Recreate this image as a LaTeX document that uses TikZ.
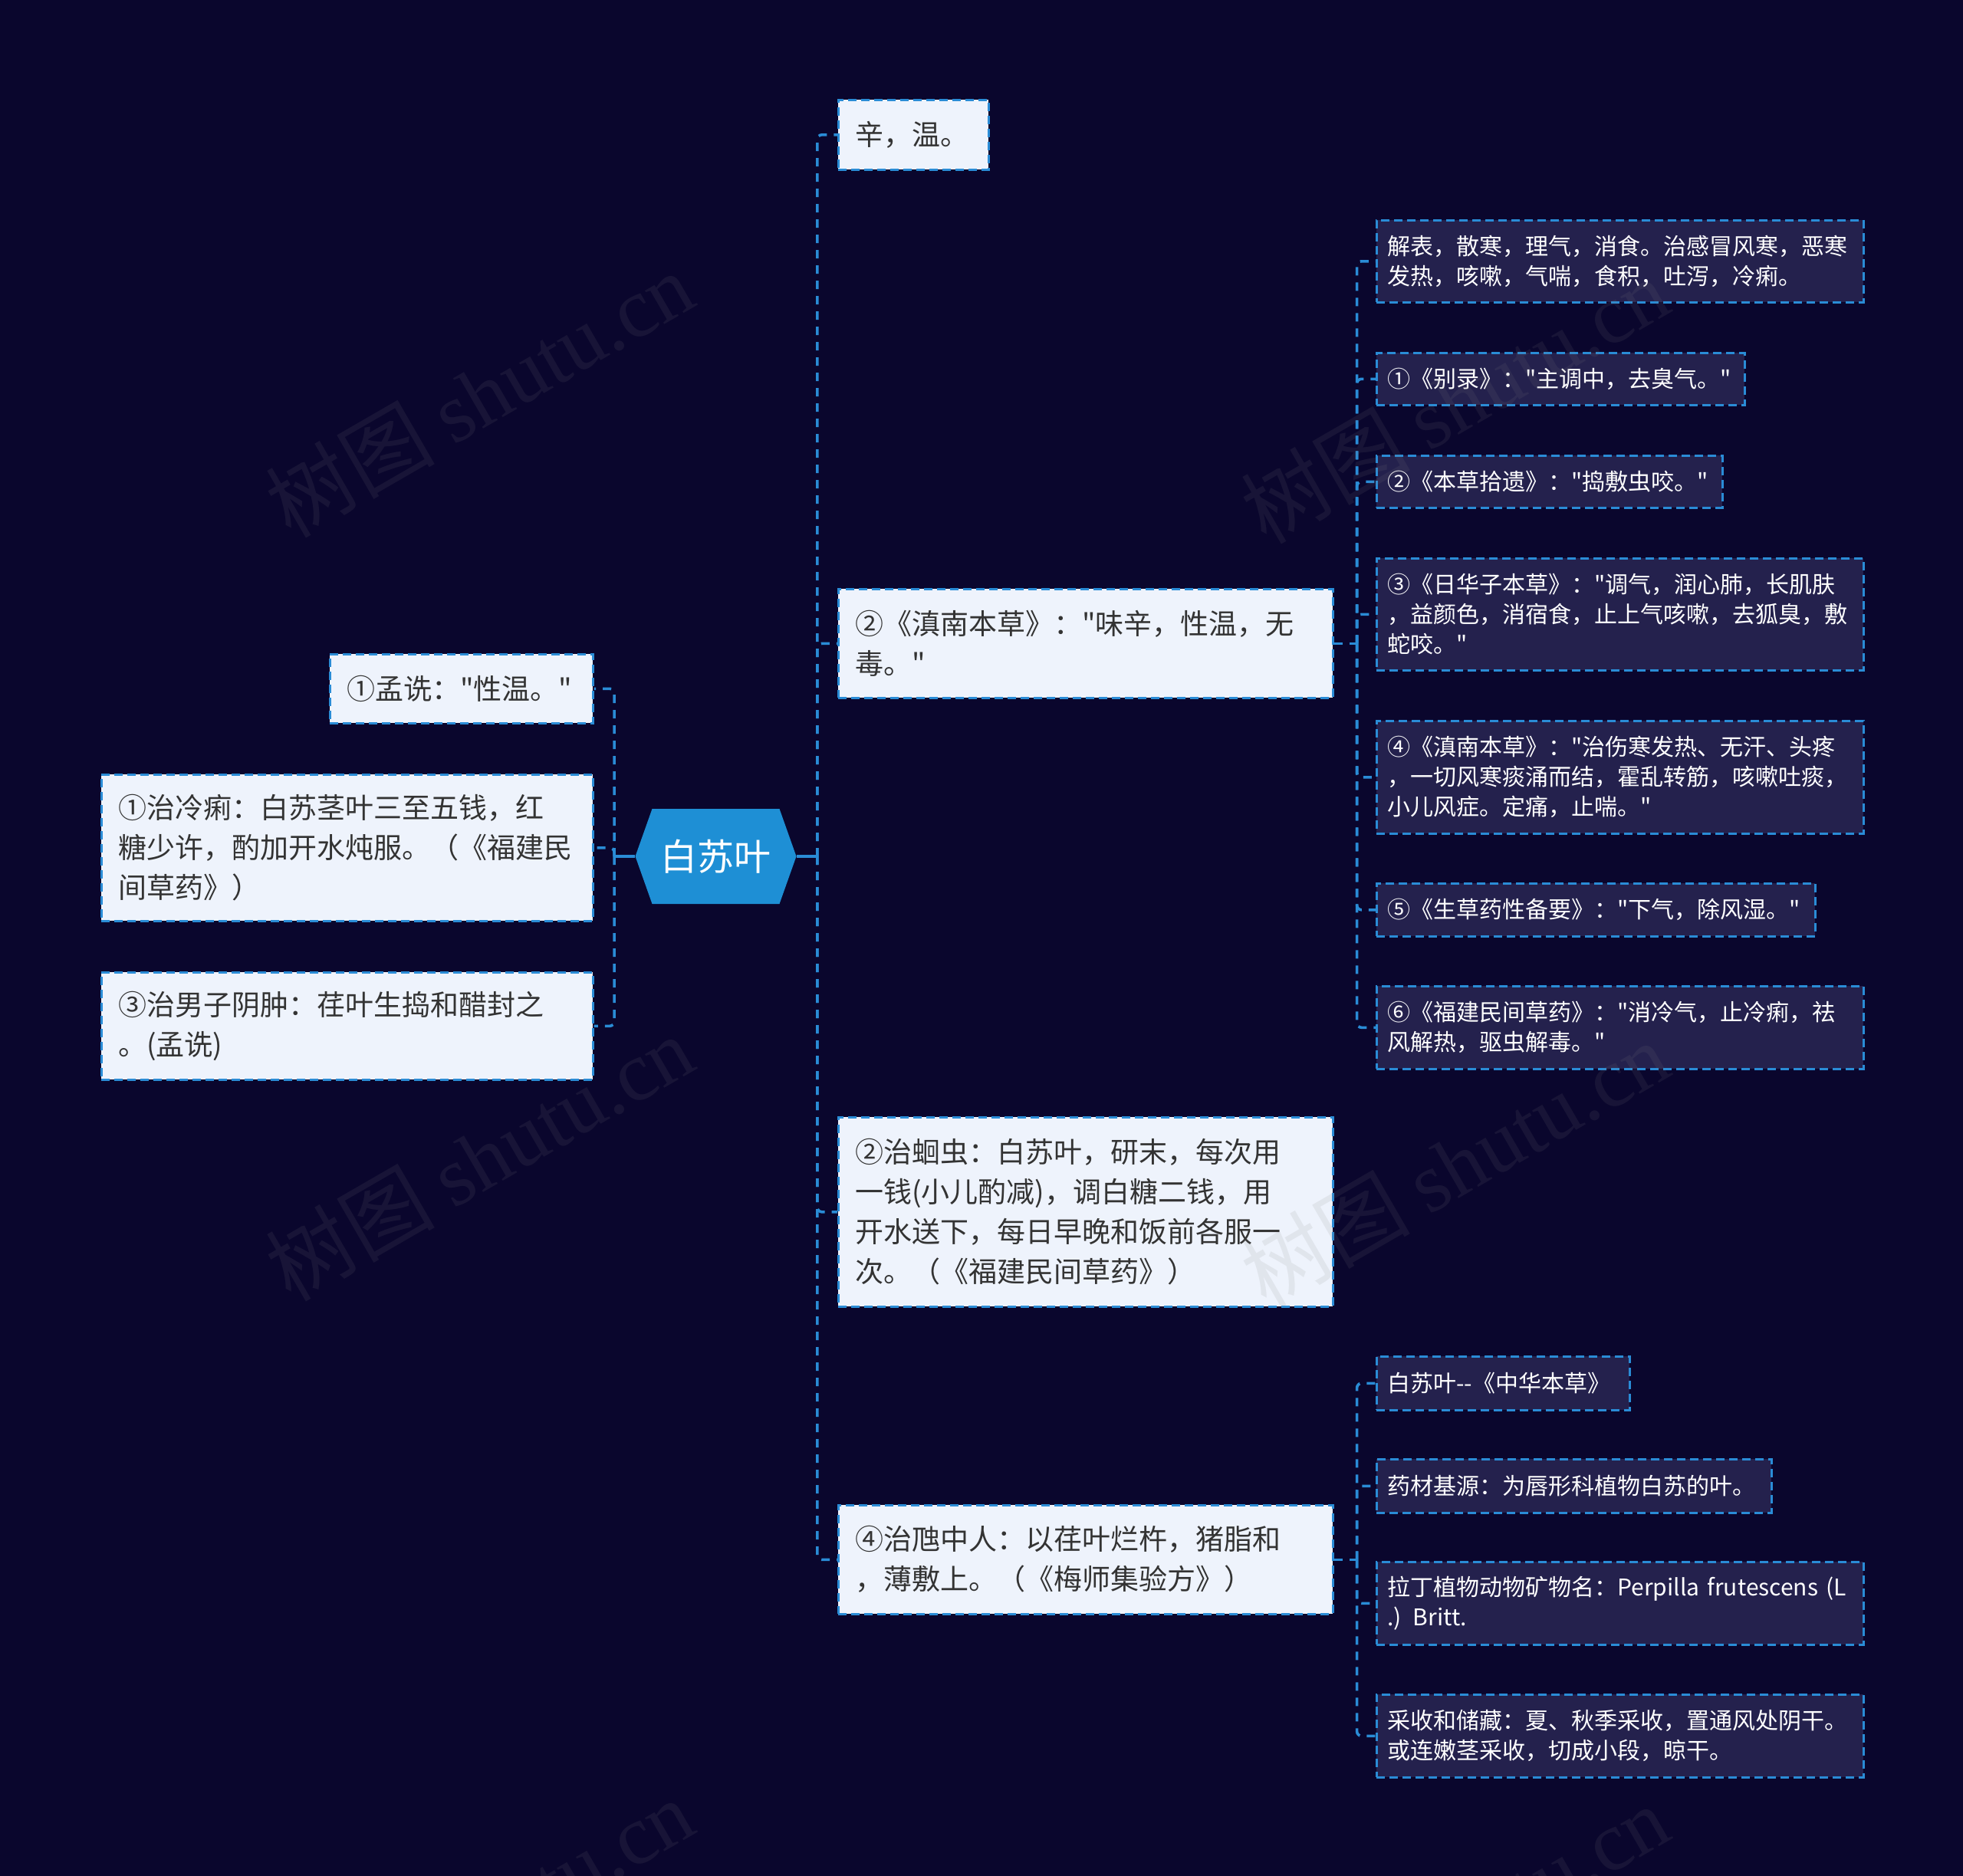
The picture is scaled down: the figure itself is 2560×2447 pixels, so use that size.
\documentclass[tikz,border=0pt]{standalone}
\usepackage{fontspec}
\setmainfont{Noto Sans CJK SC}[Ligatures=TeXOff]
\newfontfamily\wmserif{Liberation Serif}
\definecolor{bg}{HTML}{0A062D}
\definecolor{lineblue}{HTML}{2A8CD6}
\definecolor{rootblue}{HTML}{1E8FD5}
\definecolor{lightfill}{HTML}{EEF3FC}
\definecolor{darkfill}{HTML}{24214D}
\definecolor{darktext}{HTML}{333333}
\begin{document}
\begin{tikzpicture}[x=0.5pt,y=-0.5pt,
  boxdash/.style={draw=lineblue, line width=1.3pt, dash pattern=on 5.5pt off 3pt},
  lonebox/.style={boxdash, fill=lightfill, text=darktext, font=\fontsize{18.5}{26}\selectfont,
    align=left, anchor=north west, inner xsep=11pt, inner ysep=0pt},
  ltwobox/.style={boxdash, fill=darkfill, text=white, font=\fontsize{15}{19.5}\selectfont,
    align=left, anchor=north west, inner xsep=7pt, inner ysep=0pt},
  sz/.style 2 args={text width=#1, minimum height=#2},
  conn/.style={draw=lineblue, line width=1.8pt, dash pattern=on 5.5pt off 4.5pt, rounded corners=3pt},
  rootconn/.style={draw=lineblue, line width=1.8pt},
  wmark/.style={rotate=30, opacity=0.12, text=gray, font=\fontsize{55}{55}\selectfont, inner sep=0pt}
]
% background
\fill[bg] (0,0) rectangle (2560,2447);
\useasboundingbox (0,0) rectangle (2560,2447);

% root
\node[minimum width=105pt, minimum height=62pt, inner sep=0pt, text=white,
  font=\fontsize{24}{24}\selectfont,
  path picture={\fill[rootblue] (path picture bounding box.west)
     -- ([xshift=11pt]path picture bounding box.north west)
     -- ([xshift=-11pt]path picture bounding box.north east)
     -- (path picture bounding box.east)
     -- ([xshift=-11pt]path picture bounding box.south east)
     -- ([xshift=11pt]path picture bounding box.south west) -- cycle;}]
  (root) at (933.5,1117) {白苏叶};

% level 1 right
\node[lonebox, sz={76pt}{45.5pt}] (n1) at (1092,129) {辛，温。};
\node[lonebox, sz={300.5pt}{71pt}] (n2) at (1092,767) {②《滇南本草》："味辛，性温，无\\毒。"};
\node[lonebox, sz={300.5pt}{123.5pt}] (n3) at (1092,1456) {②治蛔虫：白苏叶，研末，每次用\\一钱(小儿酌减)，调白糖二钱，用\\开水送下，每日早晚和饭前各服一\\次。（《福建民间草药》）};
\node[lonebox, sz={300.5pt}{71pt}] (n4) at (1092,1962) {④治虺中人：以荏叶烂杵，猪脂和\\，薄敷上。（《梅师集验方》）};

% level 1 left
\node[lonebox, sz={149.5pt}{45pt}] (m1) at (429,852) {①孟诜："性温。"};
\node[lonebox, sz={298.5pt}{95.5pt}] (m2) at (131,1009) {①治冷痢：白苏茎叶三至五钱，红\\糖少许，酌加开水炖服。（《福建民\\间草药》）};
\node[lonebox, sz={298.5pt}{70pt}] (m3) at (131,1267) {③治男子阴肿：荏叶生捣和醋封之\\。(孟诜)};

% level 2 under n2
\node[ltwobox, sz={303.5pt}{53.5pt}] (a) at (1794,286) {解表，散寒，理气，消食。治感冒风寒，恶寒\\发热，咳嗽，气喘，食积，吐泻，冷痢。};
\node[ltwobox, sz={226pt}{34pt}] (b) at (1794,459) {①《别录》："主调中，去臭气。"};
\node[ltwobox, sz={211.5pt}{34pt}] (c) at (1794,593) {②《本草拾遗》："捣敷虫咬。"};
\node[ltwobox, sz={303.5pt}{73pt}] (d) at (1794,727) {③《日华子本草》："调气，润心肺，长肌肤\\，益颜色，消宿食，止上气咳嗽，去狐臭，敷\\蛇咬。"};
\node[ltwobox, sz={303.5pt}{73.5pt}] (e) at (1794,939) {④《滇南本草》："治伤寒发热、无汗、头疼\\，一切风寒痰涌而结，霍乱转筋，咳嗽吐痰，\\小儿风症。定痛，止喘。"};
\node[ltwobox, sz={272pt}{34.5pt}] (f) at (1794,1151) {⑤《生草药性备要》："下气，除风湿。"};
\node[ltwobox, sz={303.5pt}{54pt}] (g) at (1794,1285) {⑥《福建民间草药》："消冷气，止冷痢，祛\\风解热，驱虫解毒。"};

% level 2 under n4
\node[ltwobox, sz={151pt}{35pt}] (h) at (1794,1768) {白苏叶--《中华本草》};
\node[ltwobox, sz={243.5pt}{35pt}] (i) at (1794,1902) {药材基源：为唇形科植物白苏的叶。};
\node[ltwobox, sz={303.5pt}{54pt}] (j) at (1794,2036) {\mbox{拉丁植物动物矿物名：Perpilla frutescens (L}\\.) Britt.};
\node[ltwobox, sz={303.5pt}{54pt}] (k) at (1794,2209) {采收和储藏：夏、秋季采收，置通风处阴干。\\或连嫩茎采收，切成小段，晾干。};

% connectors
\coordinate (rs) at ([xshift=13.5pt]root.east);
\coordinate (ls) at ([xshift=-13.5pt]root.west);
\draw[rootconn] (root.east) -- (rs);
\draw[rootconn] (root.west) -- (ls);
\foreach \n in {n1,n2,n3,n4} \draw[conn] (rs) |- (\n.west);
\foreach \n in {m1,m2,m3} \draw[conn] (ls) |- (\n.east);

\coordinate (s2) at ([xshift=15pt]n2.east);
\draw[conn] (n2.east) -- (s2);
\foreach \n in {a,b,c,d,e,f,g} \draw[conn] (s2) |- (\n.west);

\coordinate (s4) at ([xshift=15pt]n4.east);
\draw[conn] (n4.east) -- (s4);
\foreach \n in {h,i,j,k} \draw[conn] (s4) |- (\n.west);

% watermarks
\foreach \wx/\wy [count=\wi] in {625/514, 625/1510, 625/2506, 1897/522, 1897/1518, 1897/2514}
  \node[wmark] (wm\wi) at (\wx,\wy) {树图 {\wmserif shutu.cn}};
\end{tikzpicture}
\end{document}
